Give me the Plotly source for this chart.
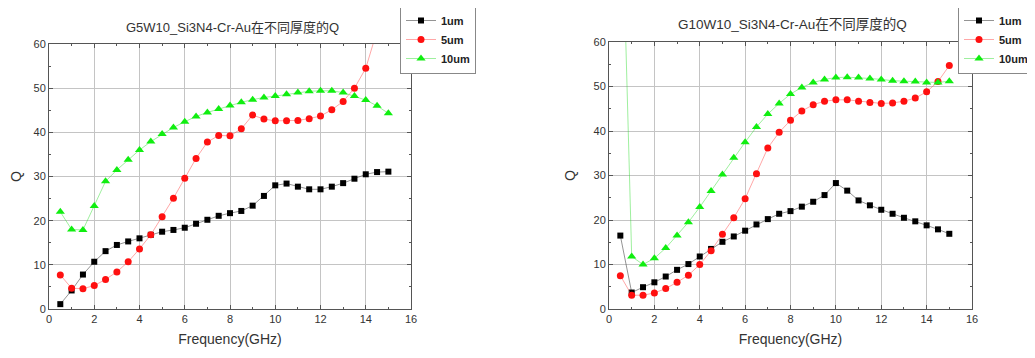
import plotly.graph_objects as go

freq = [0.5, 1.0, 1.5, 2.0, 2.5, 3.0, 3.5, 4.0, 4.5, 5.0, 5.5, 6.0, 6.5, 7.0, 7.5,
        8.0, 8.5, 9.0, 9.5, 10.0, 10.5, 11.0, 11.5, 12.0, 12.5, 13.0, 13.5, 14.0, 14.5, 15.0]

# Left chart: G5W10
g5_1um = [1.1, 4.2, 7.8, 10.7, 13.1, 14.5, 15.3, 16.0, 16.8, 17.5, 17.9, 18.4, 19.3, 20.2, 21.1,
          21.7, 22.2, 23.4, 25.6, 28.0, 28.4, 27.7, 27.1, 27.1, 27.7, 28.5, 29.5, 30.5, 31.0, 31.1]
g5_5um = [7.7, 4.7, 4.6, 5.3, 6.7, 8.4, 10.7, 13.6, 16.8, 20.9, 25.1, 29.6, 34.1, 37.8, 39.3,
          39.2, 40.8, 43.9, 43.0, 42.6, 42.6, 42.7, 43.1, 43.7, 45.1, 47.0, 50.0, 54.5, 63.0, 70.0]
g5_10um = [22.0, 18.0, 17.9, 23.3, 28.9, 31.5, 33.8, 36.0, 37.9, 39.6, 41.1, 42.4, 43.6, 44.5, 45.3,
           46.1, 46.8, 47.4, 47.9, 48.2, 48.6, 49.0, 49.3, 49.4, 49.4, 49.0, 48.2, 47.3, 46.0, 44.3]

# Right chart: G10W10
g10_1um = [16.5, 3.7, 4.9, 6.0, 7.3, 8.8, 10.1, 11.8, 13.5, 15.1, 16.3, 17.6, 19.0, 20.2, 21.4,
           22.0, 23.0, 24.1, 25.6, 28.3, 26.6, 24.4, 23.3, 22.3, 21.4, 20.5, 19.7, 18.8, 17.9, 16.9]
g10_5um = [7.5, 3.1, 3.1, 3.6, 4.6, 6.0, 7.6, 10.0, 13.1, 16.8, 20.5, 24.8, 30.4, 36.2, 39.7,
           42.4, 44.5, 45.9, 46.7, 47.0, 47.0, 46.7, 46.4, 46.2, 46.3, 46.7, 47.4, 48.8, 51.1, 54.7]
g10_10um = [105.0, 11.8, 10.0, 11.4, 13.7, 16.5, 19.5, 22.9, 26.5, 30.2, 34.0, 37.5, 40.9, 43.8, 46.2,
            48.3, 49.8, 50.9, 51.6, 52.0, 52.1, 52.0, 51.8, 51.6, 51.3, 51.2, 51.1, 50.9, 50.9, 51.2]

series_names = ["1um", "5um", "10um"]
titles = ["G5W10_Si3N4-Cr-Au在不同厚度的Q", "G10W10_Si3N4-Cr-Au在不同厚度的Q"]
x_ticks = [0, 2, 4, 6, 8, 10, 12, 14, 16]
y_ticks = [0, 10, 20, 30, 40, 50, 60]

W, H = 1035, 358
OFF = 8  # default page body margin
FONT = "Liberation Sans, Arial, Noto Sans CJK SC, sans-serif"

marker_styles = [
    dict(symbol="square", size=6, color="#000000"),
    dict(symbol="circle", size=7, color="#ff1010"),
    dict(symbol="triangle-up", size=8, color="#10ee10"),
]
line_colors = ["rgba(60,60,60,0.55)", "rgba(255,60,60,0.45)", "rgba(40,220,40,0.45)"]

fig = go.Figure()

datasets = [[g5_1um, g5_5um, g5_10um], [g10_1um, g10_5um, g10_10um]]
for p, data in enumerate(datasets):
    xa = "x" if p == 0 else "x2"
    ya = "y" if p == 0 else "y2"
    lg = "legend" if p == 0 else "legend2"
    for i, ys in enumerate(data):
        fig.add_trace(go.Scatter(
            x=freq, y=ys, mode="lines+markers", name="<b>" + series_names[i] + "</b>",
            xaxis=xa, yaxis=ya, legend=lg,
            line=dict(color=line_colors[i], width=1),
            marker=dict(**marker_styles[i], line=dict(width=0)),
            cliponaxis=True,
        ))

def px_x(v):
    return (v - OFF) / W

def px_y(v):
    return 1 - (v - OFF) / H

axis_common = dict(
    showline=True, linecolor="#555555", linewidth=1, mirror="allticks",
    ticks="inside", ticklen=4, tickcolor="#555555",
    showgrid=True, gridcolor="#c4c4c4", gridwidth=1,
    zeroline=False,
    tickfont=dict(family=FONT, size=11, color="#333333"),
)
title_font = dict(family=FONT, size=14, color="#333333")

fig.update_layout(
    width=W, height=H,
    margin=dict(l=0, r=0, t=0, b=0, autoexpand=False),
    paper_bgcolor="white", plot_bgcolor="white",
    showlegend=True,
    xaxis=dict(domain=[px_x(49), px_x(411)], range=[0, 16], tickvals=x_ticks, anchor="y",
               minor=dict(ticks="inside", dtick=1, ticklen=2, tickcolor="#555555"),
               title=dict(text="Frequency(GHz)", font=title_font, standoff=9),
               **axis_common),
    yaxis=dict(domain=[px_y(309), px_y(44)], range=[0, 60], tickvals=y_ticks, anchor="x",
               minor=dict(ticks="inside", dtick=5, ticklen=2, tickcolor="#555555"),
               title=dict(text="Q", font=title_font, standoff=14),
               **axis_common),
    xaxis2=dict(domain=[px_x(609), px_x(972)], range=[0, 16], tickvals=x_ticks, anchor="y2",
                minor=dict(ticks="inside", dtick=1, ticklen=2, tickcolor="#555555"),
                title=dict(text="Frequency(GHz)", font=title_font, standoff=9),
                **axis_common),
    yaxis2=dict(domain=[px_y(309), px_y(42)], range=[0, 60], tickvals=y_ticks, anchor="x2",
                minor=dict(ticks="inside", dtick=5, ticklen=2, tickcolor="#555555"),
                title=dict(text="Q", font=title_font, standoff=14),
                **axis_common),
    legend=dict(x=px_x(400), y=px_y(5), xanchor="left", yanchor="top",
                bgcolor="white", bordercolor="#888888", borderwidth=1,
                font=dict(family=FONT, size=11, color="#222222"),
                itemwidth=30, tracegroupgap=0),
    legend2=dict(x=px_x(958), y=px_y(5), xanchor="left", yanchor="top",
                 bgcolor="white", bordercolor="#888888", borderwidth=1,
                 font=dict(family=FONT, size=11, color="#222222"),
                 itemwidth=30, tracegroupgap=0),
    annotations=[
        dict(text=titles[0], x=px_x(232), y=px_y(27), xref="paper", yref="paper",
             showarrow=False, xanchor="center", yanchor="middle",
             font=dict(family=FONT, size=13, color="#333333")),
        dict(text=titles[1], x=px_x(792), y=px_y(25), xref="paper", yref="paper",
             showarrow=False, xanchor="center", yanchor="middle",
             font=dict(family=FONT, size=13.5, color="#333333")),
    ],
)

fig.write_html("out.html")
